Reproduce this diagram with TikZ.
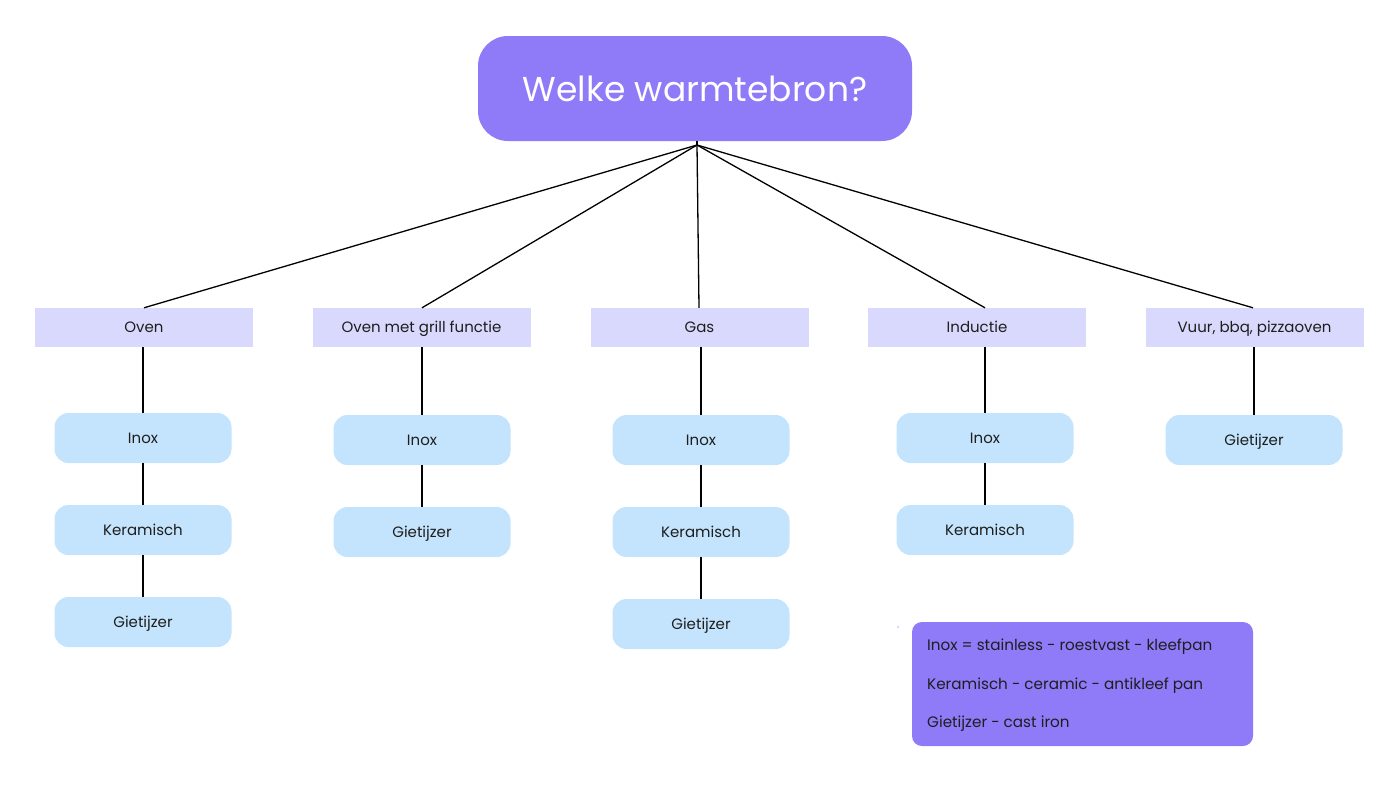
\documentclass[tikz,border=0pt]{standalone}
\usepackage{fontspec}
\setmainfont{Poppins}
\definecolor{titlefill}{HTML}{8F7AF8}
\definecolor{catfill}{HTML}{D9D9FD}
\definecolor{leaffill}{HTML}{C3E4FC}
\definecolor{txt}{HTML}{1E1E1E}
\tikzset{
  titlebox/.style={fill=titlefill, rounded corners=30pt, minimum width=434pt, minimum height=105pt, text=white, font=\fontsize{34.5}{40}\selectfont, inner sep=0pt},
  catbox/.style={fill=catfill, minimum width=218pt, minimum height=39pt, text=txt, font=\fontsize{15}{18}\selectfont, inner sep=0pt, text height=1.0em, text depth=0pt},
  leafbox/.style={fill=leaffill, rounded corners=14pt, minimum width=177pt, minimum height=50pt, text=txt, font=\fontsize{15}{18}\selectfont, inner sep=0pt, text height=1.0em, text depth=0pt},
  legendbox/.style={fill=titlefill, rounded corners=10pt, minimum width=341pt, minimum height=124pt, inner sep=0pt},
  legtext/.style={anchor=west, text=txt, font=\fontsize{15.2}{18}\selectfont, inner sep=0pt},
  conn/.style={draw=black, line width=1.3pt}
}
\begin{document}
\begin{tikzpicture}[x=1pt,y=-1pt]
\useasboundingbox (0,0) rectangle (1400,788);
\node[titlebox] (title) at (695,88.5) {Welke warmtebron?};
\coordinate (hub) at (697,145);
% categories
\node[catbox] (c1) at (144,327.5) {Oven};
\node[catbox] (c2) at (421.5,327.5) {Oven met grill functie};
\node[catbox] (c3) at (699.5,327.5) {Gas};
\node[catbox] (c4) at (977,327.5) {Inductie};
\node[catbox] (c5) at (1254.5,327.5) {Vuur, bbq, pizzaoven};
% leaves
\node[leafbox] (l11) at (143,438) {Inox};
\node[leafbox] (l12) at (143,530) {Keramisch};
\node[leafbox] (l13) at (143,622) {Gietijzer};
\node[leafbox] (l21) at (422,440) {Inox};
\node[leafbox] (l22) at (422,532) {Gietijzer};
\node[leafbox] (l31) at (701,440) {Inox};
\node[leafbox] (l32) at (701,532) {Keramisch};
\node[leafbox] (l33) at (701,624) {Gietijzer};
\node[leafbox] (l41) at (985,438) {Inox};
\node[leafbox] (l42) at (985,530) {Keramisch};
\node[leafbox] (l51) at (1254,440) {Gietijzer};
% connectors from title
\draw[conn] (hub) -- ([xshift=0pt]c1.north);
\draw[conn] (hub) -- ([xshift=0.5pt]c2.north);
\draw[conn] (hub) -- ([xshift=-0.5pt]c3.north);
\draw[conn] (hub) -- ([xshift=8pt]c4.north);
\draw[conn] (hub) -- ([xshift=-1.5pt]c5.north);
\draw[conn] (hub) -- (title.south -| hub);
% vertical connectors
\draw[conn] (c1.south -| l11) -- (l11.north);
\draw[conn] (l11) -- (l12);
\draw[conn] (l12) -- (l13);
\draw[conn] (c2.south -| l21) -- (l21.north);
\draw[conn] (l21) -- (l22);
\draw[conn] (c3.south -| l31) -- (l31.north);
\draw[conn] (l31) -- (l32);
\draw[conn] (l32) -- (l33);
\draw[conn] (c4.south -| l41) -- (l41.north);
\draw[conn] (l41) -- (l42);
\draw[conn] (c5.south -| l51) -- (l51.north);
% legend
\node[legendbox] (legend) at (1082.5,684) {};
\node[legtext] (lg1) at (927,647) {Inox = stainless - roestvast - kleefpan};
\node[legtext] (lg2) at (927,686) {Keramisch - ceramic - antikleef pan};
\node[legtext] (lg3) at (927,724) {Gietijzer - cast iron};
\fill[blue!70] (898,627) circle (0.7pt);
\end{tikzpicture}
\end{document}
